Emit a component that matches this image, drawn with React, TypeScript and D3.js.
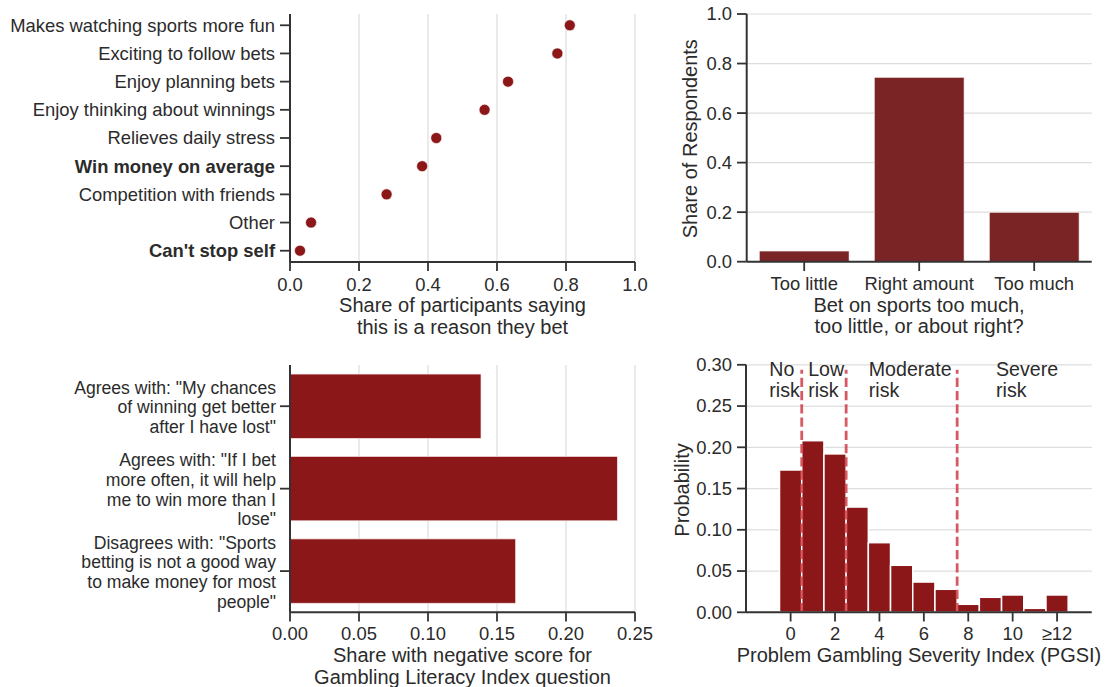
import React from "react";
import * as d3 from "d3";

// ---------- data ----------
const reasons = [
  "Makes watching sports more fun",
  "Exciting to follow bets",
  "Enjoy planning bets",
  "Enjoy thinking about winnings",
  "Relieves daily stress",
  "Win money on average",
  "Competition with friends",
  "Other",
  "Can't stop self",
];
const reasonShares = [0.811, 0.775, 0.632, 0.564, 0.424, 0.383, 0.28, 0.061, 0.029];
const boldReasons = ["Win money on average", "Can't stop self"];
const reasonTicks = [0, 0.2, 0.4, 0.6, 0.8, 1.0];

const amountCats = ["Too little", "Right amount", "Too much"];
const amountShares = [0.043, 0.744, 0.199];
const amountTicks = [0, 0.2, 0.4, 0.6, 0.8, 1.0];

const literacyLabels = [
  ['Agrees with: "My chances', "of winning get better", 'after I have lost"'],
  ['Agrees with: "If I bet', "more often, it will help", "me to win more than I", 'lose"'],
  ['Disagrees with: "Sports', "betting is not a good way", "to make money for most", 'people"'],
];
const literacyShares = [0.1384, 0.2372, 0.1635];
const literacyTicks = [0, 0.05, 0.1, 0.15, 0.2, 0.25];

const pgsiScores = [0, 1, 2, 3, 4, 5, 6, 7, 8, 9, 10, 11, 12];
const pgsiProbs = [0.1725, 0.208, 0.192, 0.1276, 0.0844, 0.057, 0.0367, 0.0279, 0.0097, 0.0182, 0.021, 0.0048, 0.021];
const pgsiTicks = [0, 2, 4, 6, 8, 10, 12];
const pgsiTickLabels = ["0", "2", "4", "6", "8", "10", "≥12"];
const probTicks = [0, 0.05, 0.1, 0.15, 0.2, 0.25, 0.3];
const riskCuts = [0.5, 2.5, 7.5];
const riskNames = [["No", "risk"], ["Low", "risk"], ["Moderate", "risk"], ["Severe", "risk"]];
const riskLabelX = [-0.96, 0.79, 3.52, 9.25];
const riskLabelY = 0.287;

// ---------- style ----------
const FONT = "'Liberation Sans', Arial, Helvetica, sans-serif";
const TXT = "#2b2b2b";
const AX = "#333333";
const GRID = "#dddddd";
const RED = "#8b1718";
const RED2 = "#7b2426";
const TICK = 18.4;
const MULTI = 17.6;
const MULTI_LH = 19.7;
const LAB = 20;
const ANN = 19.6;

export default function App() {
  // Panel 1: dot plot
  const p1x = d3.scaleLinear().domain([0, 1]).range([290, 635]);
  const p1y = d3.scalePoint<string>().domain(reasons).range([14, 262]).padding(0.4);

  // Panel 2: bars
  const p2x = d3.scaleBand<string>().domain(amountCats).range([746.7, 1091.7]).paddingInner(0.22).paddingOuter(0.11);
  const p2y = d3.scaleLinear().domain([0, 1]).range([261.7, 14]);

  // Panel 3: horizontal bars
  const idx3 = literacyShares.map((_, i) => String(i));
  const p3x = d3.scaleLinear().domain([0, 0.25]).range([290, 635]);
  const p3y = d3.scaleBand<string>().domain(idx3).range([365, 612.3]).paddingInner(0.22).paddingOuter(0.11);

  // Panel 4: histogram
  const p4x = d3.scaleLinear().domain([-2.01, 13.56]).range([746, 1091.7]);
  const p4y = d3.scaleLinear().domain([0, 0.3]).range([612.3, 364.8]);

  const textProps = { fontFamily: FONT, fill: TXT };

  return (
    <svg width={1106} height={687} style={{ position: "absolute", left: 0, top: 0, background: "#fff" }}>
      {/* ===== Panel 1 ===== */}
      <g>
        {reasonTicks.map((t) => (
          <line key={"g1" + t} x1={p1x(t)} x2={p1x(t)} y1={14} y2={262} stroke={GRID} strokeWidth={1.2} />
        ))}
        {reasons.map((r, i) => (
          <circle key={r} cx={p1x(reasonShares[i])} cy={p1y(r)} r={5.5} fill={RED} stroke="#fff" strokeWidth={0.6} />
        ))}
        <line x1={290} x2={290} y1={14} y2={262} stroke={AX} strokeWidth={2} />
        <line x1={290} x2={635} y1={262} y2={262} stroke={AX} strokeWidth={2} />
        {reasons.map((r) => (
          <g key={"t1" + r}>
            <line x1={280} x2={290} y1={p1y(r)} y2={p1y(r)} stroke={AX} strokeWidth={1.8} />
            <text
              x={275}
              y={p1y(r)}
              dy="0.35em"
              textAnchor="end"
              fontSize={TICK}
              fontWeight={boldReasons.includes(r) ? "bold" : "normal"}
              {...textProps}
            >
              {r}
            </text>
          </g>
        ))}
        {reasonTicks.map((t) => (
          <g key={"x1" + t}>
            <line x1={p1x(t)} x2={p1x(t)} y1={262} y2={271} stroke={AX} strokeWidth={1.8} />
            <text x={p1x(t)} y={285} dy="0.35em" textAnchor="middle" fontSize={TICK} {...textProps}>
              {d3.format(".1f")(t)}
            </text>
          </g>
        ))}
        <text x={462.5} y={305} dy="0.35em" textAnchor="middle" fontSize={LAB} {...textProps}>
          Share of participants saying
        </text>
        <text x={462.5} y={326.7} dy="0.35em" textAnchor="middle" fontSize={LAB} {...textProps}>
          this is a reason they bet
        </text>
      </g>

      {/* ===== Panel 2 ===== */}
      <g>
        {amountTicks.map((t) => (
          <line key={"g2" + t} x1={746.7} x2={1091.7} y1={p2y(t)} y2={p2y(t)} stroke={GRID} strokeWidth={1.2} />
        ))}
        {amountCats.map((c, i) => (
          <rect
            key={c}
            x={p2x(c)}
            width={p2x.bandwidth()}
            y={p2y(amountShares[i])}
            height={p2y(0) - p2y(amountShares[i])}
            fill={RED2}
            stroke="#f3e6e6"
            strokeWidth={0.6}
          />
        ))}
        <line x1={746.7} x2={746.7} y1={14} y2={261.7} stroke={AX} strokeWidth={2} />
        <line x1={746.7} x2={1091.7} y1={261.7} y2={261.7} stroke={AX} strokeWidth={2} />
        {amountTicks.map((t) => (
          <g key={"y2" + t}>
            <line x1={737} x2={746.7} y1={p2y(t)} y2={p2y(t)} stroke={AX} strokeWidth={1.8} />
            <text x={740} y={p2y(t)} dx={-8} dy="0.35em" textAnchor="end" fontSize={TICK} {...textProps}>
              {d3.format(".1f")(t)}
            </text>
          </g>
        ))}
        {amountCats.map((c) => {
          const cx = (p2x(c) as number) + p2x.bandwidth() / 2;
          return (
            <g key={"x2" + c}>
              <line x1={cx} x2={cx} y1={261.7} y2={271} stroke={AX} strokeWidth={1.8} />
              <text x={cx} y={283.3} dy="0.35em" textAnchor="middle" fontSize={TICK} {...textProps}>
                {c}
              </text>
            </g>
          );
        })}
        <text x={919} y={305} dy="0.35em" textAnchor="middle" fontSize={LAB} {...textProps}>
          Bet on sports too much,
        </text>
        <text x={919} y={325.7} dy="0.35em" textAnchor="middle" fontSize={LAB} {...textProps}>
          too little, or about right?
        </text>
        <text
          transform={`translate(690,138.7) rotate(-90)`}
          dy="0.35em"
          textAnchor="middle"
          fontSize={LAB}
          {...textProps}
        >
          Share of Respondents
        </text>
      </g>

      {/* ===== Panel 3 ===== */}
      <g>
        {literacyTicks.map((t) => (
          <line key={"g3" + t} x1={p3x(t)} x2={p3x(t)} y1={365} y2={612.3} stroke={GRID} strokeWidth={1.2} />
        ))}
        {idx3.map((k, i) => (
          <rect
            key={"b3" + k}
            x={p3x(0)}
            y={p3y(k)}
            height={p3y.bandwidth()}
            width={p3x(literacyShares[i]) - p3x(0)}
            fill={RED}
            stroke="#f3e0e0"
            strokeWidth={0.7}
          />
        ))}
        <line x1={290} x2={290} y1={365} y2={612.3} stroke={AX} strokeWidth={2} />
        <line x1={290} x2={635} y1={612.3} y2={612.3} stroke={AX} strokeWidth={2} />
        {idx3.map((k, i) => {
          const cy = (p3y(k) as number) + p3y.bandwidth() / 2;
          const lines = literacyLabels[i];
          const y0 = cy + 1 - ((lines.length - 1) * MULTI_LH) / 2;
          return (
            <g key={"y3" + k}>
              <line x1={280} x2={290} y1={cy} y2={cy} stroke={AX} strokeWidth={1.8} />
              {lines.map((ln, j) => (
                <text
                  key={j}
                  x={276}
                  y={y0 + j * MULTI_LH}
                  dy="0.35em"
                  textAnchor="end"
                  fontSize={MULTI}
                  {...textProps}
                >
                  {ln}
                </text>
              ))}
            </g>
          );
        })}
        {literacyTicks.map((t) => (
          <g key={"x3" + t}>
            <line x1={p3x(t)} x2={p3x(t)} y1={612.3} y2={621.5} stroke={AX} strokeWidth={1.8} />
            <text x={p3x(t)} y={633.3} dy="0.35em" textAnchor="middle" fontSize={TICK} {...textProps}>
              {d3.format(".2f")(t)}
            </text>
          </g>
        ))}
        <text x={462.5} y={655} dy="0.35em" textAnchor="middle" fontSize={LAB} {...textProps}>
          Share with negative score for
        </text>
        <text x={462.5} y={676.7} dy="0.35em" textAnchor="middle" fontSize={LAB} {...textProps}>
          Gambling Literacy Index question
        </text>
      </g>

      {/* ===== Panel 4 ===== */}
      <g>
        {probTicks.map((t) => (
          <line key={"g4" + t} x1={746} x2={1091.7} y1={p4y(t)} y2={p4y(t)} stroke={GRID} strokeWidth={1.2} />
        ))}
        {pgsiScores.map((s, i) => (
          <rect
            key={"h" + s}
            x={p4x(s - 0.5)}
            width={p4x(s + 0.5) - p4x(s - 0.5)}
            y={p4y(pgsiProbs[i])}
            height={p4y(0) - p4y(pgsiProbs[i])}
            fill={RED}
            stroke="#ffffff"
            strokeWidth={1.5}
          />
        ))}
        {riskCuts.map((c) => (
          <line
            key={"c" + c}
            x1={p4x(c)}
            x2={p4x(c)}
            y1={p4y(0)}
            y2={p4y(0.294)}
            stroke="#d0434d"
            strokeOpacity={0.88}
            strokeWidth={2.8}
            strokeDasharray="9.25,4"
          />
        ))}
        {riskNames.map((nm, i) =>
          nm.map((ln, j) => (
            <text
              key={"r" + i + j}
              x={p4x(riskLabelX[i])}
              y={p4y(riskLabelY) + j * 21.3}
              fontSize={ANN}
              {...textProps}
            >
              {ln}
            </text>
          ))
        )}
        <line x1={746} x2={746} y1={364.8} y2={612.3} stroke={AX} strokeWidth={2} />
        <line x1={746} x2={1091.7} y1={612.3} y2={612.3} stroke={AX} strokeWidth={2} />
        {probTicks.map((t) => (
          <g key={"y4" + t}>
            <line x1={737} x2={746} y1={p4y(t)} y2={p4y(t)} stroke={AX} strokeWidth={1.8} />
            <text x={732} y={p4y(t)} dy="0.35em" textAnchor="end" fontSize={TICK} {...textProps}>
              {d3.format(".2f")(t)}
            </text>
          </g>
        ))}
        {pgsiTicks.map((t, i) => (
          <g key={"x4" + t}>
            <line x1={p4x(t)} x2={p4x(t)} y1={612.3} y2={621.5} stroke={AX} strokeWidth={1.8} />
            <text x={p4x(t)} y={633.3} dy="0.35em" textAnchor="middle" fontSize={TICK} {...textProps}>
              {pgsiTickLabels[i]}
            </text>
          </g>
        ))}
        <text x={919} y={655} dy="0.35em" textAnchor="middle" fontSize={LAB} {...textProps}>
          Problem Gambling Severity Index (PGSI)
        </text>
        <text
          transform={`translate(682,490) rotate(-90)`}
          dy="0.35em"
          textAnchor="middle"
          fontSize={LAB}
          {...textProps}
        >
          Probability
        </text>
      </g>
    </svg>
  );
}
